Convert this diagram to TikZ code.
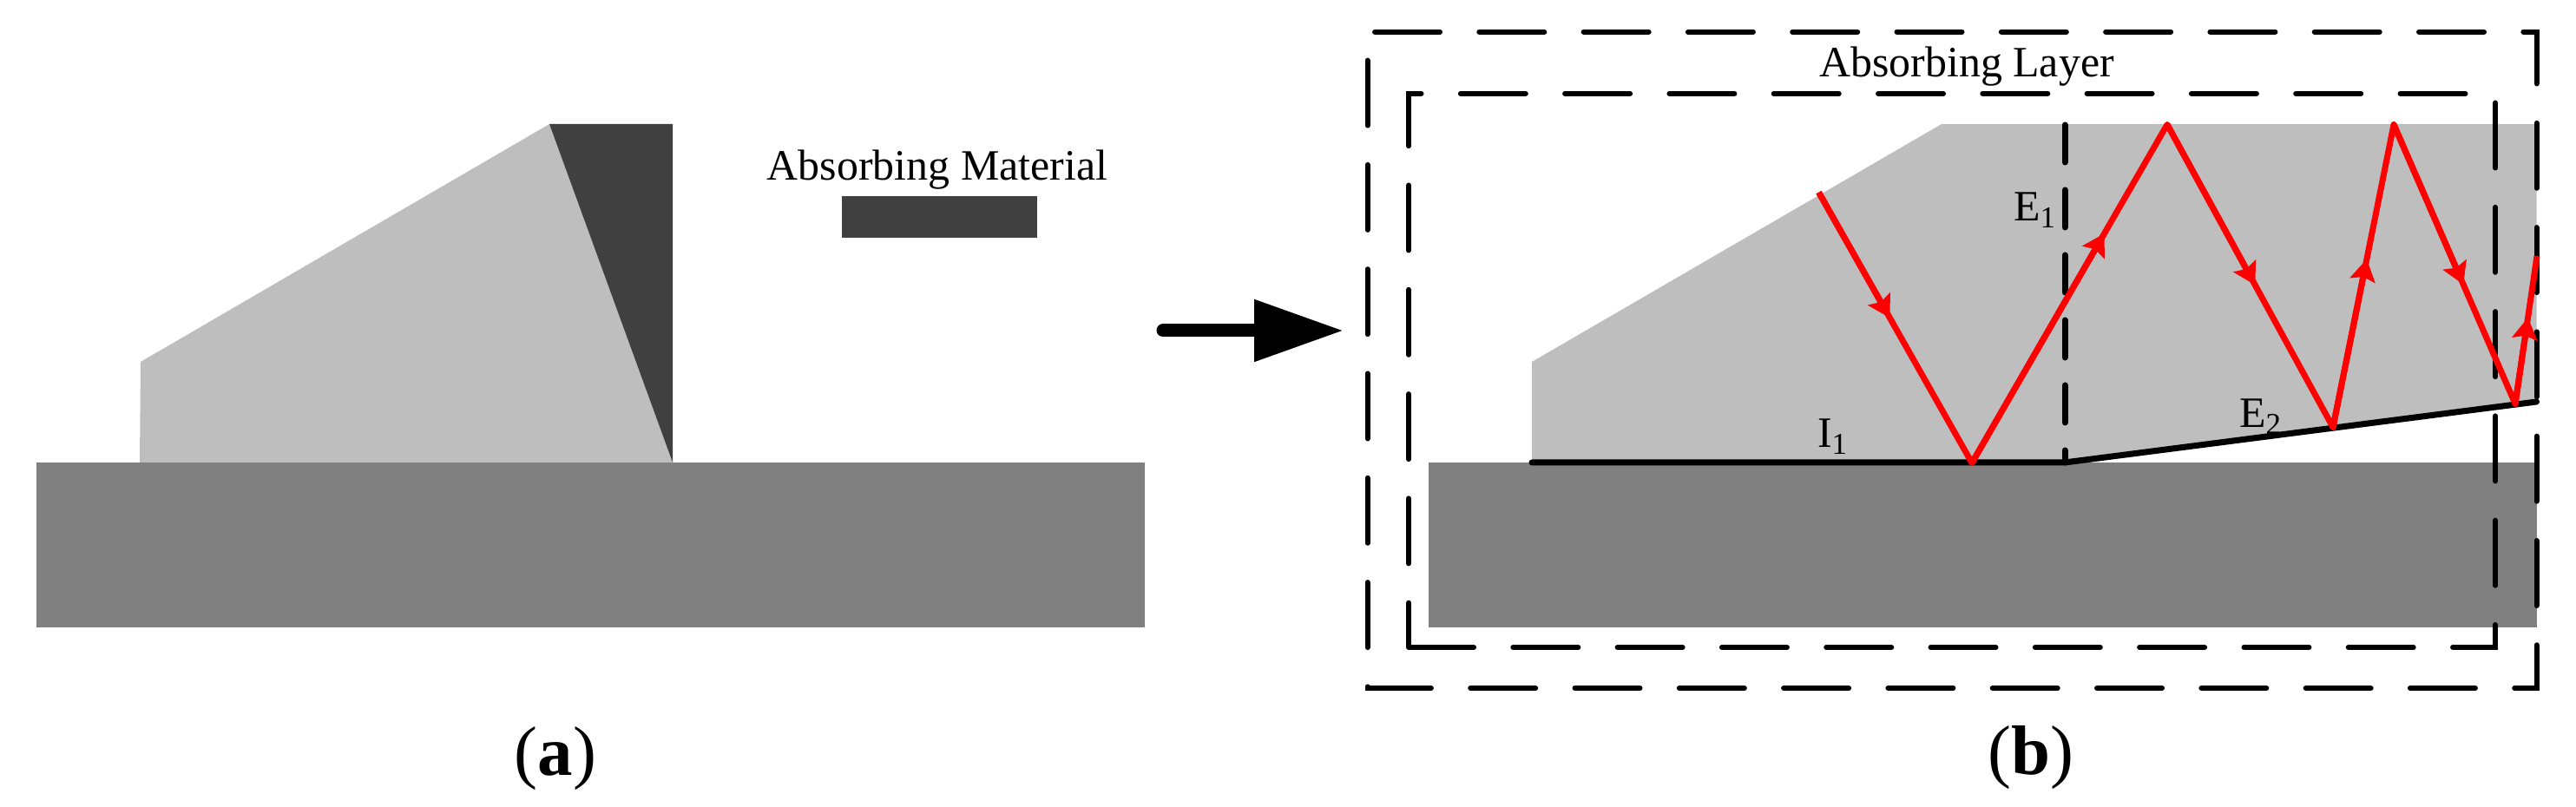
\documentclass[tikz,border=0pt]{standalone}
\usepackage{fontspec}
\setmainfont{Liberation Serif}
\usetikzlibrary{calc, arrows.meta}
\definecolor{lightpart}{HTML}{BEBEBE}
\definecolor{basepart}{HTML}{808080}
\definecolor{darkpart}{HTML}{404040}
\tikzset{>={Stealth[length=0.25cm, width=0.29cm, inset=0.04cm]}}
\tikzset{
    layerbox/.style={line width=0.06cm, line cap=round, dash pattern=on 0.75cm off 0.453cm},
    splitline/.style={line width=0.07cm, line cap=round, dash pattern=on 0.43cm off 0.32cm},
    ray/.style={line width=0.07cm, red, line join=round},
    rayhead/.style={line width=0.07cm, red, ->},
    lbl/.style={inner sep=0pt, anchor=base, font=\fontsize{14.2pt}{16pt}\selectfont},
    panelcap/.style={inner sep=0pt, anchor=base, font=\fontsize{23pt}{28pt}\selectfont}
}

\begin{document}
\begin{tikzpicture}
    \useasboundingbox (0,0) rectangle (29.68,9.30);

    \fill[lightpart] (1.61,3.97) -- (1.62,5.13) -- (6.33,7.87) -- (7.75,3.97) -- cycle;
    \fill[darkpart] (6.33,7.87) -- (7.75,7.87) -- (7.75,3.97) -- cycle;
    \fill[basepart] (0.42,2.07) rectangle (13.19,3.97);
    \fill[darkpart] (9.70,6.56) rectangle (11.95,7.04);
    \node[lbl] (material) at (10.80,7.225) {Absorbing Material};
    \node[panelcap] (capa) at (6.40,0.36) {(\textbf{a})};

    \coordinate (arrowa) at (13.40,5.49);
    \coordinate (arrowb) at (15.48,5.49);
    \draw[line width=0.15cm, line cap=round, -{Triangle[length=1.03cm, width=0.68cm]}] (arrowa) -- (arrowb);

    \fill[lightpart] (17.65,3.97) -- (17.65,5.13) -- (22.37,7.87) -- (29.225,7.87) -- (29.225,4.67) -- (23.79,3.97) -- cycle;
    \fill[basepart] (16.46,2.07) rectangle (29.225,3.97);
    \draw[line width=0.07cm, line cap=round, line join=round] (17.65,3.97) -- (23.79,3.97) -- (29.225,4.67);

    \coordinate (splittop) at (23.79,7.86);
    \coordinate (splitbot) at (23.79,3.97);
    \draw[splitline] (splittop) -- (splitbot);
    \draw[layerbox] (15.84,8.933) -- (29.225,8.933) -- (29.225,1.37) -- (15.755,1.37) -- (15.755,8.933) -- cycle;
    \draw[layerbox] (16.23,1.84) -- (28.75,1.84) -- (28.75,8.223) -- (16.23,8.223) -- cycle;

    \coordinate (r0) at (20.955,7.083);
    \coordinate (r1) at (22.72,3.965);
    \coordinate (r2) at (24.97,7.865);
    \coordinate (r3) at (26.88,4.375);
    \coordinate (r4) at (27.58,7.865);
    \coordinate (r5) at (28.98,4.645);
    \coordinate (r6) at (29.23,6.35);
    \draw[ray] (r0) -- (r1) -- (r2) -- (r3) -- (r4) -- (r5) -- (r6);
    \draw[rayhead] (r0) -- ($(r0)!0.464!(r1)$);
    \draw[rayhead] (r1) -- ($(r1)!0.678!(r2)$);
    \draw[rayhead] (r2) -- ($(r2)!0.53!(r3)$);
    \draw[rayhead] (r3) -- ($(r3)!0.556!(r4)$);
    \draw[rayhead] (r4) -- ($(r4)!0.573!(r5)$);
    \draw[rayhead] (r5) -- ($(r5)!0.584!(r6)$);

    \node[lbl] (layer) at (22.66,8.41) {Absorbing Layer};
    \node[lbl] (eone) at (23.45,6.75) {E\textsubscript{1}};
    \node[lbl] (ione) at (21.12,4.14) {I\textsubscript{1}};
    \node[lbl] (etwo) at (26.05,4.37) {E\textsubscript{2}};
    \node[panelcap] (capb) at (23.40,0.37) {(\textbf{b})};
\end{tikzpicture}
\end{document}
